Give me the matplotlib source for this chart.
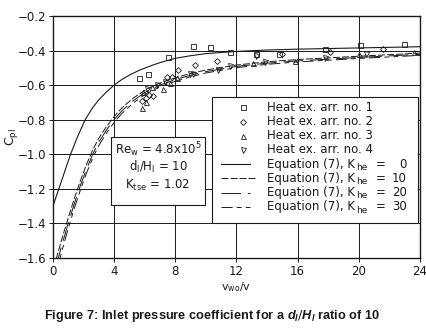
import numpy as np
import matplotlib
matplotlib.use('Agg')
import matplotlib.pyplot as plt
from matplotlib.patches import Rectangle
from matplotlib.lines import Line2D

plt.rcParams['font.family'] = 'DejaVu Sans'
plt.rcParams['mathtext.fontset'] = 'custom'
plt.rcParams['mathtext.rm'] = 'DejaVu Sans'
plt.rcParams['mathtext.it'] = 'Liberation Sans:italic:bold'
plt.rcParams['mathtext.bf'] = 'DejaVu Sans:bold'
plt.rcParams['lines.scale_dashes'] = False

# Equation (7), K_he = 0
k0_x = [0, 0.5, 1.13, 1.6, 2.11, 2.6, 3.0, 3.5, 4.0, 4.5, 5.0, 5.7, 6.5, 7.0, 8.0,
        9.0, 10, 12, 14, 16, 20, 24]
k0_y = [-1.30, -1.17, -1.005, -0.90, -0.80, -0.73, -0.685, -0.64, -0.60, -0.568, -0.542,
        -0.512, -0.485, -0.47, -0.445, -0.43, -0.418, -0.405, -0.397, -0.392, -0.385, -0.378]

# Equation (7), K_he = 10, 20, 30 (same x grid)
kx = [0.2, 0.6, 1.0, 1.4, 1.8, 2.2, 2.6, 3.0, 3.5, 4.0, 4.5, 5.25, 6.1, 7.0, 8.0,
      9.0, 10, 12, 14, 16, 20, 24]
k10_y = [-1.61, -1.485, -1.368, -1.255, -1.152, -1.058, -0.975, -0.907, -0.84, -0.782,
         -0.733, -0.675, -0.625, -0.588, -0.557, -0.533, -0.513, -0.484, -0.465, -0.452,
         -0.433, -0.415]
k20_y = [-1.65, -1.52, -1.40, -1.285, -1.18, -1.085, -1.0, -0.93, -0.86, -0.80,
         -0.75, -0.69, -0.638, -0.60, -0.568, -0.543, -0.522, -0.492, -0.473, -0.46,
         -0.44, -0.422]
k30_y = [-1.69, -1.555, -1.43, -1.313, -1.205, -1.108, -1.022, -0.95, -0.878, -0.816,
         -0.765, -0.703, -0.65, -0.61, -0.578, -0.552, -0.53, -0.499, -0.48, -0.466,
         -0.446, -0.428]

# measurements
arr1_x = [5.65, 6.2, 7.55, 9.15, 10.25, 11.55, 13.3, 14.75, 17.8, 20.05, 22.95]
arr1_y = [-0.56, -0.535, -0.44, -0.375, -0.38, -0.41, -0.42, -0.42, -0.39, -0.37, -0.36]
arr2_x = [5.8, 6.1, 6.25, 6.55, 7.45, 7.75, 8.2, 9.3, 10.75, 14.95, 18.1, 21.6]
arr2_y = [-0.695, -0.675, -0.655, -0.665, -0.552, -0.552, -0.51, -0.484, -0.462, -0.42,
          -0.41, -0.39]
arr3_x = [5.85, 6.1, 5.9, 6.45, 7.2, 7.65, 8.1, 13.1, 15.8, 20.0, 23.6]
arr3_y = [-0.735, -0.70, -0.64, -0.61, -0.625, -0.59, -0.562, -0.475, -0.46, -0.42, -0.41]
arr4_x = [6.15, 6.8, 7.3, 8.95, 9.15, 10.8, 11.55, 13.3, 13.85, 17.8, 20.5]
arr4_y = [-0.625, -0.6, -0.585, -0.537, -0.537, -0.51, -0.49, -0.43, -0.465, -0.445, -0.418]

x_ticks = [0, 4, 8, 12, 16, 20, 24]
y_ticks = [-1.6, -1.4, -1.2, -1.0, -0.8, -0.6, -0.4, -0.2]

# pixel layout of the original figure
W, H = 427, 332
L, R, T, B = 53, 420, 16, 257.7


def ax_xy(px, py):
    return (px - L) / (R - L), (B - py) / (B - T)


ink = '#1a1a1a'
fig = plt.figure(figsize=(W / 100, H / 100), dpi=100)
ax = fig.add_axes([L / W, 1 - B / H, (R - L) / W, (B - T) / H])

styles = {
    'k0': dict(color=ink, lw=0.8, ls='-'),
    'k10': dict(color=ink, lw=0.7, dashes=(5, 1.5)),
    'k20': dict(color=ink, lw=0.7, dashes=(14, 5)),
    'k30': dict(color=ink, lw=0.7, dashes=(8, 3, 3.5, 3, 3.5, 3)),
}
ax.plot(k0_x, k0_y, **styles['k0'])
ax.plot(kx, k10_y, **styles['k10'])
ax.plot(kx, k20_y, **styles['k20'])
ax.plot(kx, k30_y, **styles['k30'])

mk = dict(ls='none', mfc='none', mec=ink, mew=0.6, ms=3.6)
ax.plot(arr1_x, arr1_y, marker='s', **mk)
ax.plot(arr2_x, arr2_y, marker='D', **dict(mk, ms=3.0))
ax.plot(arr3_x, arr3_y, marker='^', **mk)
ax.plot(arr4_x, arr4_y, marker='v', **mk)

ax.set_xlim(0, 24)
ax.set_ylim(-1.6, -0.2)
ax.set_xticks(x_ticks)
ax.set_yticks(y_ticks)
ax.set_yticklabels([f'{v:.1f}'.replace('-', '\u2212') for v in y_ticks])
ax.grid(True, color=ink, lw=0.7)
ax.tick_params(direction='out', length=3, width=0.7, labelsize=8.5, color=ink,
               labelcolor=ink, pad=2)
for s in ax.spines.values():
    s.set_linewidth(1.0)
    s.set_color(ink)

ax.set_xlabel(r'v$_{\mathrm{wo}}$/v', fontsize=8, color=ink, labelpad=2)
ax.set_ylabel(r'C$_{\mathrm{pl}}$', fontsize=9, color=ink, va='center')
ax.yaxis.set_label_coords((12 - L) / (R - L), 0.5)

# legend box
fs = 8.5
x0, y0 = ax_xy(212, 223)
x1, y1 = ax_xy(418, 97.3)
ax.add_patch(Rectangle((x0, y0), x1 - x0, y1 - y0, transform=ax.transAxes,
                       fc='white', ec=ink, lw=0.8, zorder=5))
rows = ['Heat ex. arr. no. 1', 'Heat ex. arr. no. 2', 'Heat ex. arr. no. 3',
        'Heat ex. arr. no. 4']
marks = [('s', 3.6), ('D', 3.0), ('^', 3.6), ('v', 3.6)]
for i, (lab, (m, ms)) in enumerate(zip(rows, marks)):
    py = 107.3 + 14.2 * i
    hx, hy = ax_xy(243, py)
    ax.add_line(Line2D([hx], [hy], marker=m, ms=ms, mfc='none', mec=ink, mew=0.6,
                       transform=ax.transAxes, zorder=6, clip_on=False))
    tx, ty = ax_xy(266.7, py)
    ax.text(tx, ty, lab, transform=ax.transAxes, fontsize=fs, color=ink,
            ha='left', va='center', zorder=6)

k_vals = ['0', '10', '20', '30']
k_styles = ['k0', 'k10', 'k20', 'k30']
for i, (kv, ks) in enumerate(zip(k_vals, k_styles)):
    py = 107.3 + 14.2 * (i + 4)
    xa, ya = ax_xy(220.7, py)
    xb, _ = ax_xy(256.7 if ks == 'k10' else 250, py)
    ax.add_line(Line2D([xa, xb], [ya, ya], transform=ax.transAxes, zorder=6,
                       clip_on=False, **styles[ks]))
    tx, ty = ax_xy(266.7, py)
    ax.text(tx, ty, 'Equation (7), K', transform=ax.transAxes,
            fontsize=fs, color=ink, ha='left', va='center', zorder=6)
    sx, sy = ax_xy(356, py + 3.5)
    ax.text(sx, sy, 'he', transform=ax.transAxes,
            fontsize=6.5, color=ink, ha='left', va='center', zorder=6)
    ex, ey = ax_xy(381, py)
    ax.text(ex, ey, '=', transform=ax.transAxes, fontsize=fs, color=ink,
            ha='center', va='center', zorder=6)
    nx, _ = ax_xy(407, py)
    ax.text(nx, ey, kv, transform=ax.transAxes, fontsize=fs, color=ink,
            ha='right', va='center', zorder=6)

# parameter box
x0, y0 = ax_xy(111, 205)
x1, y1 = ax_xy(205, 137.3)
ax.add_patch(Rectangle((x0, y0), x1 - x0, y1 - y0, transform=ax.transAxes,
                       fc='white', ec=ink, lw=0.8, zorder=5))
params = [r'Re$_{\mathrm{w}}$ = 4.8x10$^{\mathrm{5}}$',
          r'd$_{\mathrm{l}}$/H$_{\mathrm{l}}$ = 10',
          r'K$_{\mathrm{tse}}$ = 1.02']
for lab, py in zip(params, [149.5, 167, 185]):
    tx, ty = ax_xy(158, py)
    ax.text(tx, ty, lab, transform=ax.transAxes, fontsize=8.5, color=ink,
            ha='center', va='center', zorder=6)

fig.text(211.7 / W, 1 - 316 / H,
         r'Figure 7: Inlet pressure coefficient for a $d_l/H_l$ ratio of 10',
         ha='center', va='center', fontsize=9.2, fontweight='bold',
         family='Liberation Sans', color=ink)

fig.savefig('out.png', dpi=100)
